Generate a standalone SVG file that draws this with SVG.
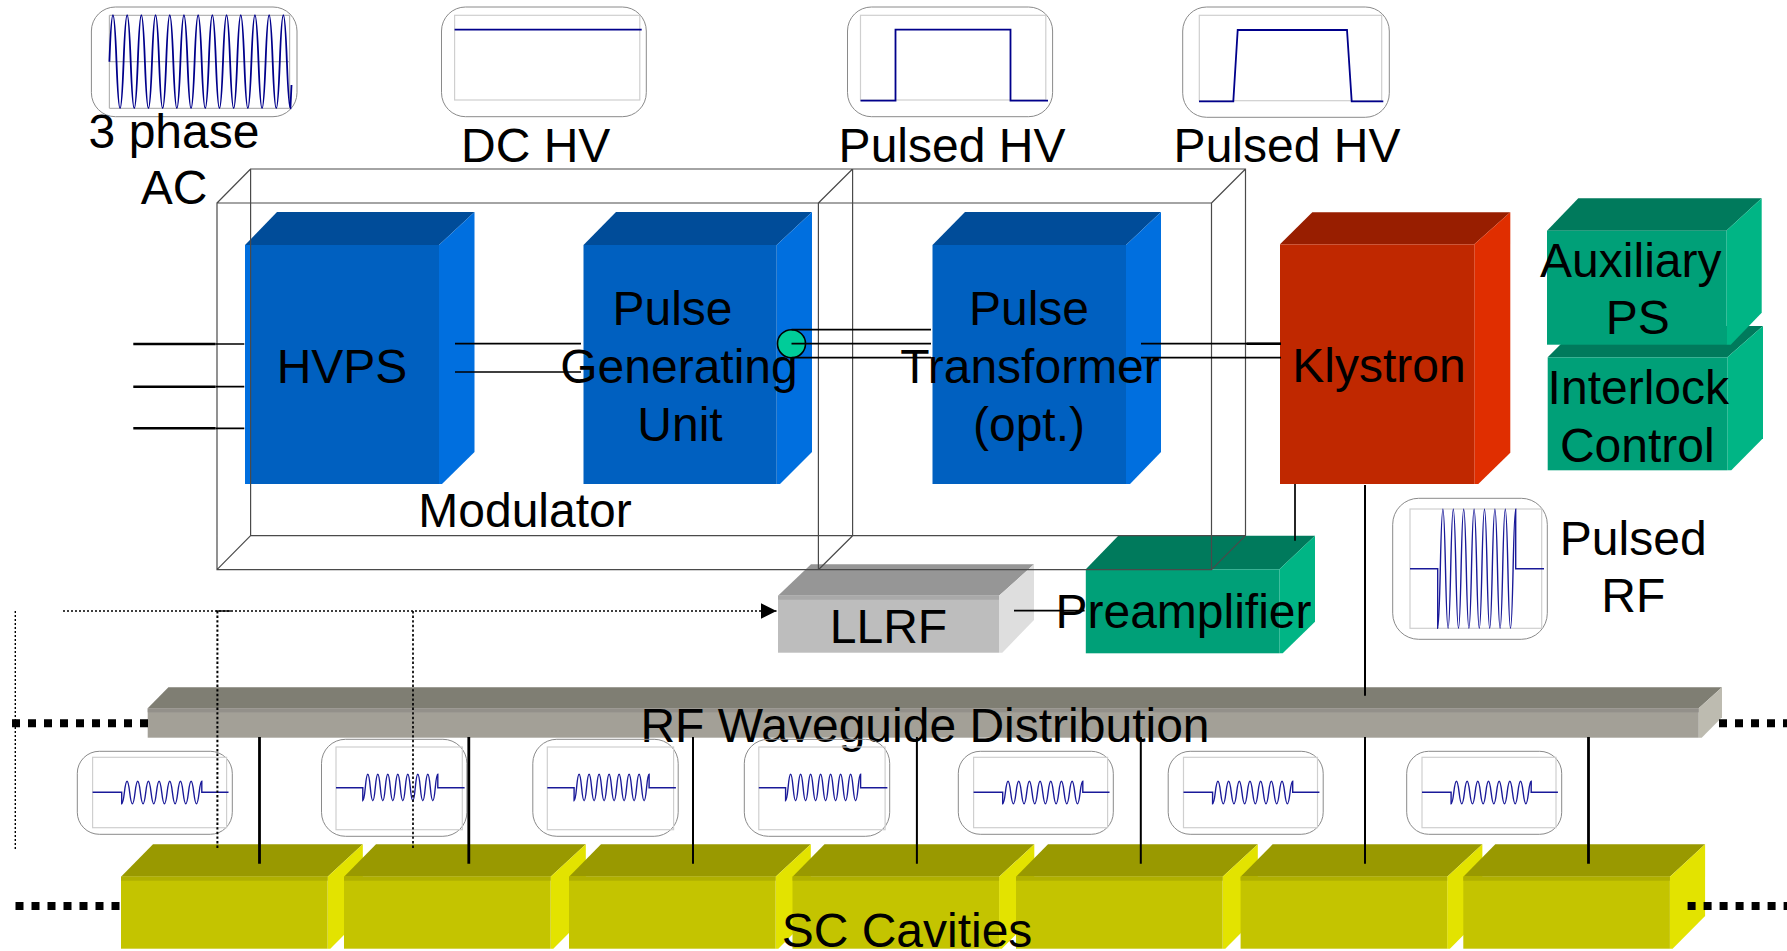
<svg xmlns="http://www.w3.org/2000/svg" width="1787" height="951" viewBox="0 0 1787 951">
<style>
text{font-family:"Liberation Sans",Arial,sans-serif;font-size:48px;fill:#000;text-anchor:middle}
.bt{fill:#004c99}.bf{fill:#0060c0}.bs{fill:#006fdf}
.gt{fill:#007a5c}.gf{fill:#00a078}.gs{fill:#00b585}
.yt{fill:#999900}.yf{fill:#c4c400}.ys{fill:#e3e300}.yb{fill:#b0b000}
.rr{fill:none;stroke:#8a8a8a;stroke-width:1}
.pl{fill:none;stroke:#cfcfcf;stroke-width:1.2}
.wv{fill:none;stroke:#1a1a99;stroke-width:1.4}
.wb{fill:none;stroke:#00008b;stroke-width:1.8}
.fr{fill:none;stroke:#4a4a4a;stroke-width:1.2}
.ln{fill:none;stroke:#000;stroke-width:1.7}
.dt{fill:none;stroke:#000;stroke-width:1.4;stroke-dasharray:2 2}
.sq{fill:none;stroke:#000;stroke-width:8;stroke-dasharray:8 8}
</style>
<defs>
<marker id="ah" markerUnits="userSpaceOnUse" markerWidth="16" markerHeight="16" refX="16" refY="8" orient="auto"><path d="M0 0L16 8L0 16Z" fill="#000"/></marker>
<g id="cav">
<polygon class="yt" points="0,876.7 32,844.3 241.8,844.3 206.6,876.7"/>
<polygon class="ys" points="206.6,876.7 241.8,844.3 241.8,916 209.3,948.7 206.6,948.7"/>
<rect class="yf" x="0" y="876.7" width="206.6" height="72"/>
<rect class="yb" x="0" y="876.7" width="206.6" height="4"/>
</g>
<g id="insetA">
<rect class="rr" x="77.3" y="751.3" width="155" height="83" rx="22"/>
<rect class="pl" x="92.6" y="757.3" width="134" height="70.4"/>
<path class="wv" d="M92.6 792.3H121.7V803.7c2.67 0 2.67-22.4 5.34-22.4s2.67 22.4 5.34 22.4s2.67-22.4 5.34-22.4s2.67 22.4 5.34 22.4s2.67-22.4 5.34-22.4s2.67 22.4 5.34 22.4s2.67-22.4 5.34-22.4s2.67 22.4 5.34 22.4s2.67-22.4 5.34-22.4s2.67 22.4 5.34 22.4s2.67-22.4 5.34-22.4s2.67 22.4 5.34 22.4s2.67-22.4 5.34-22.4s2.67 22.4 5.34 22.4s2.67-22.4 5.34-22.4V792.3H228.5"/>
</g>
<g id="insetB">
<rect class="rr" x="321.5" y="739.3" width="145.4" height="97" rx="24"/>
<rect class="pl" x="336" y="747" width="126.3" height="82.7"/>
<path class="wv" d="M336 787.7H362.8V800.7c2.5 0 2.5-26.4 5-26.4s2.5 26.4 5 26.4s2.5-26.4 5-26.4s2.5 26.4 5 26.4s2.5-26.4 5-26.4s2.5 26.4 5 26.4s2.5-26.4 5-26.4s2.5 26.4 5 26.4s2.5-26.4 5-26.4s2.5 26.4 5 26.4s2.5-26.4 5-26.4s2.5 26.4 5 26.4s2.5-26.4 5-26.4s2.5 26.4 5 26.4s2.5-26.4 5-26.4V787.7H464.6"/>
</g>
</defs>
<rect width="1787" height="951" fill="#fff"/>

<g id="hvps">
<polygon class="bt" points="245,245 277,212 474.5,212 439,245"/>
<polygon class="bs" points="439,245 474.5,212 474.5,452 442,484 439,484"/>
<rect class="bf" x="245" y="245" width="194" height="239"/>
<rect class="bs" x="245" y="245" width="5.6" height="239"/>
<text x="342" y="382.7">HVPS</text>
</g>
<g id="pulse-generating-unit">
<polygon class="bt" points="583.5,245 616,212 812,212 776.7,245"/>
<polygon class="bs" points="776.7,245 812,212 812,452 780,484 776.7,484"/>
<rect class="bf" x="583.5" y="245" width="193.2" height="239"/>
<text x="672.5" y="325">Pulse</text>
<text x="679" y="382.7">Generating</text>
<text x="680" y="440.7">Unit</text>
</g>
<g id="pulse-transformer">
<polygon class="bt" points="932.5,245 965,212 1161,212 1126,245"/>
<polygon class="bs" points="1126,245 1161,212 1161,452 1130,484 1126,484"/>
<rect class="bf" x="932.5" y="245" width="193.5" height="239"/>
<text x="1029" y="325">Pulse</text>
<text x="1030" y="382.7">Transformer</text>
<text x="1029" y="440.7">(opt.)</text>
</g>
<g id="klystron">
<polygon fill="#981e00" points="1280,244.3 1312.3,212.3 1510.3,212.3 1474.3,244.3"/>
<polygon fill="#e02e00" points="1474.3,244.3 1510.3,212.3 1510.3,452.7 1478.3,484 1474.3,484"/>
<rect fill="#c02800" x="1280" y="244.3" width="194.3" height="239.7"/>
<text x="1379" y="382.3">Klystron</text>
</g>
<g id="interlock-control">
<polygon class="gt" points="1547.7,357.3 1579,326 1763,326 1727.3,357.3"/>
<polygon class="gs" points="1727.3,357.3 1763,326 1763,438.3 1731.3,470.3 1727.3,470.3"/>
<rect class="gf" x="1547.7" y="357.3" width="179.6" height="113"/>
<text x="1638.3" y="404">Interlock</text>
<text x="1637.3" y="462.3">Control</text>
</g>
<g id="auxiliary-ps">
<polygon class="gt" points="1547,230.7 1578.3,198.3 1761.7,198.3 1726.3,230.7"/>
<polygon class="gs" points="1726.3,230.7 1761.7,198.3 1761.7,312.7 1730.7,344.7 1726.3,344.7"/>
<rect class="gf" x="1547" y="230.7" width="179.3" height="114"/>
<text x="1630.8" y="276.7">Auxiliary</text>
<text x="1637.7" y="334.3">PS</text>
</g>
<g id="llrf">
<polygon fill="#969696" points="778,595.7 811,564.3 1034,564.3 999,595.7"/>
<polygon fill="#dedede" points="999,595.7 1034,564.3 1034,620 1002.3,652.7 999,652.7"/>
<rect fill="#bdbdbd" x="778" y="595.7" width="221" height="57"/>
<rect fill="#a9a9a9" x="778" y="595.7" width="221" height="4"/>
<text x="888.5" y="642.7">LLRF</text>
</g>
<g id="preamplifier">
<polygon class="gt" points="1085.8,569.3 1118.3,535.7 1315,535.7 1279.4,569.3"/>
<polygon class="gs" points="1279.4,569.3 1315,535.7 1315,621.7 1282.7,653.3 1279.4,653.3"/>
<rect class="gf" x="1085.8" y="569.3" width="193.6" height="84"/>
<text x="1183.5" y="628.3">Preamplifier</text>
</g>
<g id="rf-waveguide">
<polygon fill="#7f7e73" points="147.7,708.3 168.4,687.2 1722,687.2 1698.7,708.3"/>
<polygon fill="#bdbbb0" points="1698.7,708.3 1722,687.2 1722,717.3 1701.7,737.7 1698.7,737.7"/>
<rect fill="#a3a097" x="147.7" y="708.3" width="1551" height="29.4"/>
<rect fill="#93908a" x="147.7" y="708.3" width="1551" height="4"/>
<text x="925" y="741.7">RF Waveguide Distribution</text>
</g>
<g id="sc-cavities">
<use href="#cav" x="121"/>
<use href="#cav" x="344"/>
<use href="#cav" x="569"/>
<use href="#cav" x="792.5"/>
<use href="#cav" x="1016"/>
<use href="#cav" x="1240.6"/>
<use href="#cav" x="1463.3"/>
<text x="907" y="947.3">SC Cavities</text>
</g>
<g id="wave-3phase">
<rect class="rr" x="91.4" y="7" width="205.6" height="109.7" rx="24"/>
<path d="M109.4 15.3H289.6M109.4 61.7H289.6M109.4 108.3H289.6M109.4 15.3V108.3M289.6 15.3V108.3" fill="none" stroke="#b5b5b5" stroke-width="1.2"/>
<path class="wb" d="M109.4 61.7q3.55-93 7.1 0t7.1 0t7.1 0t7.1 0t7.1 0t7.1 0t7.1 0t7.1 0t7.1 0t7.1 0t7.1 0t7.1 0t7.1 0t7.1 0t7.1 0t7.1 0t7.1 0t7.1 0t7.1 0t7.1 0t7.1 0t7.1 0t7.1 0t7.1 0t7.1 0Q288.7 108.3 290.4 108.3L291.5 85"/>
<text x="174" y="147.7">3 phase</text>
<text x="174" y="204.3">AC</text>
</g>
<g id="wave-dc">
<rect class="rr" x="441.5" y="7" width="204.8" height="109.7" rx="24"/>
<rect class="pl" x="454.6" y="15.3" width="185.2" height="84.7"/>
<path class="wb" d="M454.6 29.7H641.7"/>
<text x="535.7" y="161.7">DC HV</text>
</g>
<g id="wave-pulsed-hv-1">
<rect class="rr" x="847.5" y="7" width="205.1" height="109.7" rx="24"/>
<rect class="pl" x="860.5" y="15.3" width="185.3" height="84.7"/>
<path class="wb" d="M860.5 100.7H895.5V29.7H1010.5V100.7H1048"/>
<text x="952" y="161.7">Pulsed HV</text>
</g>
<g id="wave-pulsed-hv-2">
<rect class="rr" x="1182.7" y="7" width="206.6" height="110.3" rx="24"/>
<rect class="pl" x="1199.3" y="15.3" width="182.4" height="85.4"/>
<path class="wb" d="M1199 101.3H1233.3L1237.7 30H1347L1351.7 101.3H1383.3"/>
<text x="1287" y="161.7">Pulsed HV</text>
</g>
<g id="wave-pulsed-rf">
<rect class="rr" x="1392.7" y="498.3" width="154.6" height="141" rx="26"/>
<rect class="pl" x="1410" y="509" width="131.7" height="119.3"/>
<path class="wv" d="M1410 568.7H1437.7V628.3c2.6 0 2.6-119 5.2-119s2.6 119 5.2 119s2.6-119 5.2-119s2.6 119 5.2 119s2.6-119 5.2-119s2.6 119 5.2 119s2.6-119 5.2-119s2.6 119 5.2 119s2.6-119 5.2-119s2.6 119 5.2 119s2.6-119 5.2-119s2.6 119 5.2 119s2.6-119 5.2-119s2.6 119 5.2 119s2.6-119 5.2-119V568.7H1544"/>
<text x="1633.2" y="555">Pulsed</text>
<text x="1633.3" y="612.3">RF</text>
</g>
<g id="wave-cav-1"><use href="#insetA"/></g>
<g id="wave-cav-2"><use href="#insetB"/></g>
<g id="wave-cav-3"><use href="#insetB" x="211.3"/></g>
<g id="wave-cav-4"><use href="#insetB" x="422.8"/></g>
<g id="wave-cav-5"><use href="#insetA" x="881"/></g>
<g id="wave-cav-6"><use href="#insetA" x="1090.9"/></g>
<g id="wave-cav-7"><use href="#insetA" x="1329.4"/></g>

<g id="connectors">
<path class="fr" d="M217 203H1211.5V569.7H217ZM250.6 169H1245.5V535.7H250.6ZM818.4 203V569.7M852.6 169V535.7M217 203L250.6 169M818.4 203L852.6 169M1211.5 203L1245.5 169M217 569.7L250.6 535.7M818.4 569.7L852.6 535.7M1211.5 569.7L1245.5 535.7"/>
<path class="ln" d="M215.6 344H244.3M215.6 386.7H244.3M215.6 428.3H244.3"/>
<path class="ln" style="stroke-width:2.6" d="M133.3 344H215.6M133.3 386.7H215.6M133.3 428.3H215.6"/>
<path class="ln" d="M455 343.7H581M455 372H581"/>
</g>
<g id="junction">
<circle cx="791.5" cy="343.7" r="14" fill="#00cc99" stroke="#000" stroke-width="1.6"/>
</g>
<g id="connectors-2">
<path class="ln" d="M791.5 329.7H931M791.5 343.7H931M791.5 357.7H931M1141 343.7H1281M1141 357.7H1281M1295 484V540.7M1014 610.7H1084.6"/>
<path class="ln" style="stroke-width:2.6" d="M1246.5 343.7H1281"/>
<path class="ln" style="stroke-width:2" d="M1365 485V695.7M1365 737V863.7M693 737V863.7M916.9 737V863.7M1140.8 737V863.7"/>
<path class="ln" style="stroke-width:2.8" d="M259.5 737V863.7M468.8 737V863.7M1588.5 737V863.7"/>
<path class="dt" d="M63 611H776.5" marker-end="url(#ah)"/>
<path class="ln" style="stroke-width:1.4" d="M216 611H231"/>
<path class="dt" d="M15.3 611V849"/>
<path class="dt" style="stroke-width:2;stroke-dasharray:2.4 2.2" d="M217.4 611V849"/>
<path class="dt" style="stroke-width:1.7;stroke-dasharray:2.4 2.2" d="M413 611V849"/>
<path class="sq" d="M12 723.3H148"/>
<path class="sq" d="M15.5 906H120.5"/>
<path class="sq" d="M1719 723.3H1787"/>
<path class="sq" d="M1687.6 906H1787"/>
</g>
<text x="525" y="526.7" id="modulator-label">Modulator</text>
</svg>
